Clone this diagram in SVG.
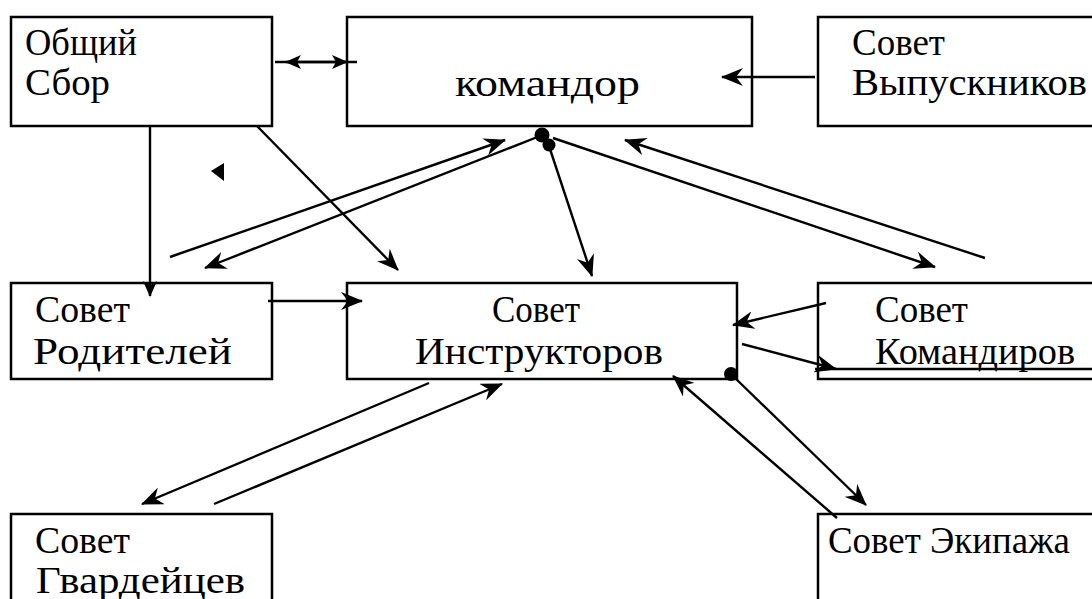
<svg xmlns="http://www.w3.org/2000/svg" width="1092" height="599" viewBox="0 0 1092 599">
<defs>
<style>
.box{fill:#fff;stroke:#000;stroke-width:2.5}
.t{font-family:"Liberation Serif","Times New Roman",serif;font-size:38px;fill:#000}
.c{stroke:#000;stroke-width:2.4;fill:none}
.a{marker-end:url(#ah)}
</style>
<marker id="ah" markerUnits="userSpaceOnUse" viewBox="0 0 22 18" markerWidth="22" markerHeight="18" refX="21" refY="9" orient="auto-start-reverse">
<path d="M22,9 L0,0 L7,9 L0,18 z" fill="#000"/>
</marker>
<marker id="ahs" markerUnits="userSpaceOnUse" viewBox="0 0 16 14" markerWidth="16" markerHeight="14" refX="15" refY="7" orient="auto-start-reverse">
<path d="M16,7 L0,0 L4,7 L0,14 z" fill="#000"/>
</marker>
</defs>
<rect width="1092" height="599" fill="#fff"/>
<g id="n-obshiy">
<rect class="box" x="11" y="17" width="261" height="109"/>
<text class="t" x="25" y="55" textLength="112" lengthAdjust="spacingAndGlyphs">Общий</text>
<text class="t" x="25" y="95" textLength="85" lengthAdjust="spacingAndGlyphs">Сбор</text>
</g>
<g id="n-komandor">
<rect class="box" x="347" y="17" width="405" height="109"/>
<text class="t" x="455" y="96" textLength="185" lengthAdjust="spacingAndGlyphs">командор</text>
</g>
<g id="n-vypusk">
<rect class="box" x="818" y="17" width="290" height="109"/>
<text class="t" x="852" y="55" textLength="93" lengthAdjust="spacingAndGlyphs">Совет</text>
<text class="t" x="852" y="95" textLength="235" lengthAdjust="spacingAndGlyphs">Выпускников</text>
</g>
<g id="n-roditeli">
<rect class="box" x="11" y="283" width="261" height="96"/>
<text class="t" x="35" y="322" textLength="95" lengthAdjust="spacingAndGlyphs">Совет</text>
<text class="t" x="33" y="364" textLength="199" lengthAdjust="spacingAndGlyphs">Родителей</text>
</g>
<g id="n-instr">
<rect class="box" x="347" y="283" width="390" height="96"/>
<text class="t" x="492" y="322" textLength="88" lengthAdjust="spacingAndGlyphs">Совет</text>
<text class="t" x="415" y="364" textLength="248" lengthAdjust="spacingAndGlyphs">Инструкторов</text>
</g>
<g id="n-komandiry">
<rect class="box" x="818" y="283" width="290" height="96"/>
<text class="t" x="875" y="322" textLength="93" lengthAdjust="spacingAndGlyphs">Совет</text>
<text class="t" x="875" y="364" textLength="200" lengthAdjust="spacingAndGlyphs">Командиров</text>
</g>
<g id="n-gvard">
<rect class="box" x="11" y="514" width="261" height="100"/>
<text class="t" x="35" y="553" textLength="95" lengthAdjust="spacingAndGlyphs">Совет</text>
<text class="t" x="36" y="593" textLength="209" lengthAdjust="spacingAndGlyphs">Гвардейцев</text>
</g>
<g id="n-ekipazh">
<rect class="box" x="818" y="514" width="290" height="100"/>
<text class="t" x="828" y="553" textLength="242" lengthAdjust="spacingAndGlyphs">Совет Экипажа</text>
</g>
<g id="connectors">
<line class="c" x1="275" y1="62" x2="357" y2="62"/>
<line class="c" x1="286" y1="62" x2="347" y2="62" marker-start="url(#ahs)" marker-end="url(#ahs)"/>
<line class="c a" x1="815" y1="77" x2="722" y2="77"/>
<line class="c" x1="150" y1="126" x2="150" y2="296" marker-end="url(#ahs)"/>
<line class="c a" x1="257" y1="126" x2="398" y2="270"/>
<polygon points="211,171 224,163 224,181" fill="#000"/>
<line class="c a" x1="170" y1="257" x2="505" y2="140"/>
<line class="c a" x1="540" y1="136" x2="205" y2="268"/>
<line class="c a" x1="549" y1="146" x2="592" y2="276"/>
<line class="c a" x1="553" y1="138" x2="935" y2="267"/>
<line class="c a" x1="985" y1="258" x2="625" y2="140"/>
<circle cx="542" cy="135" r="7.5" fill="#000"/>
<circle cx="549" cy="145" r="6.5" fill="#000"/>
<line class="c a" x1="268" y1="301" x2="362" y2="301"/>
<line class="c a" x1="826" y1="303" x2="733" y2="325"/>
<line class="c a" x1="742" y1="344" x2="836" y2="369"/>
<line class="c" x1="815" y1="369" x2="1092" y2="369"/>
<circle cx="731" cy="374" r="7" fill="#000"/>
<line class="c a" x1="734" y1="377" x2="866" y2="505"/>
<line class="c a" x1="837" y1="518" x2="673" y2="376"/>
<line class="c a" x1="429" y1="383" x2="142" y2="504"/>
<line class="c a" x1="214" y1="504" x2="502" y2="384"/>
</g>
</svg>
